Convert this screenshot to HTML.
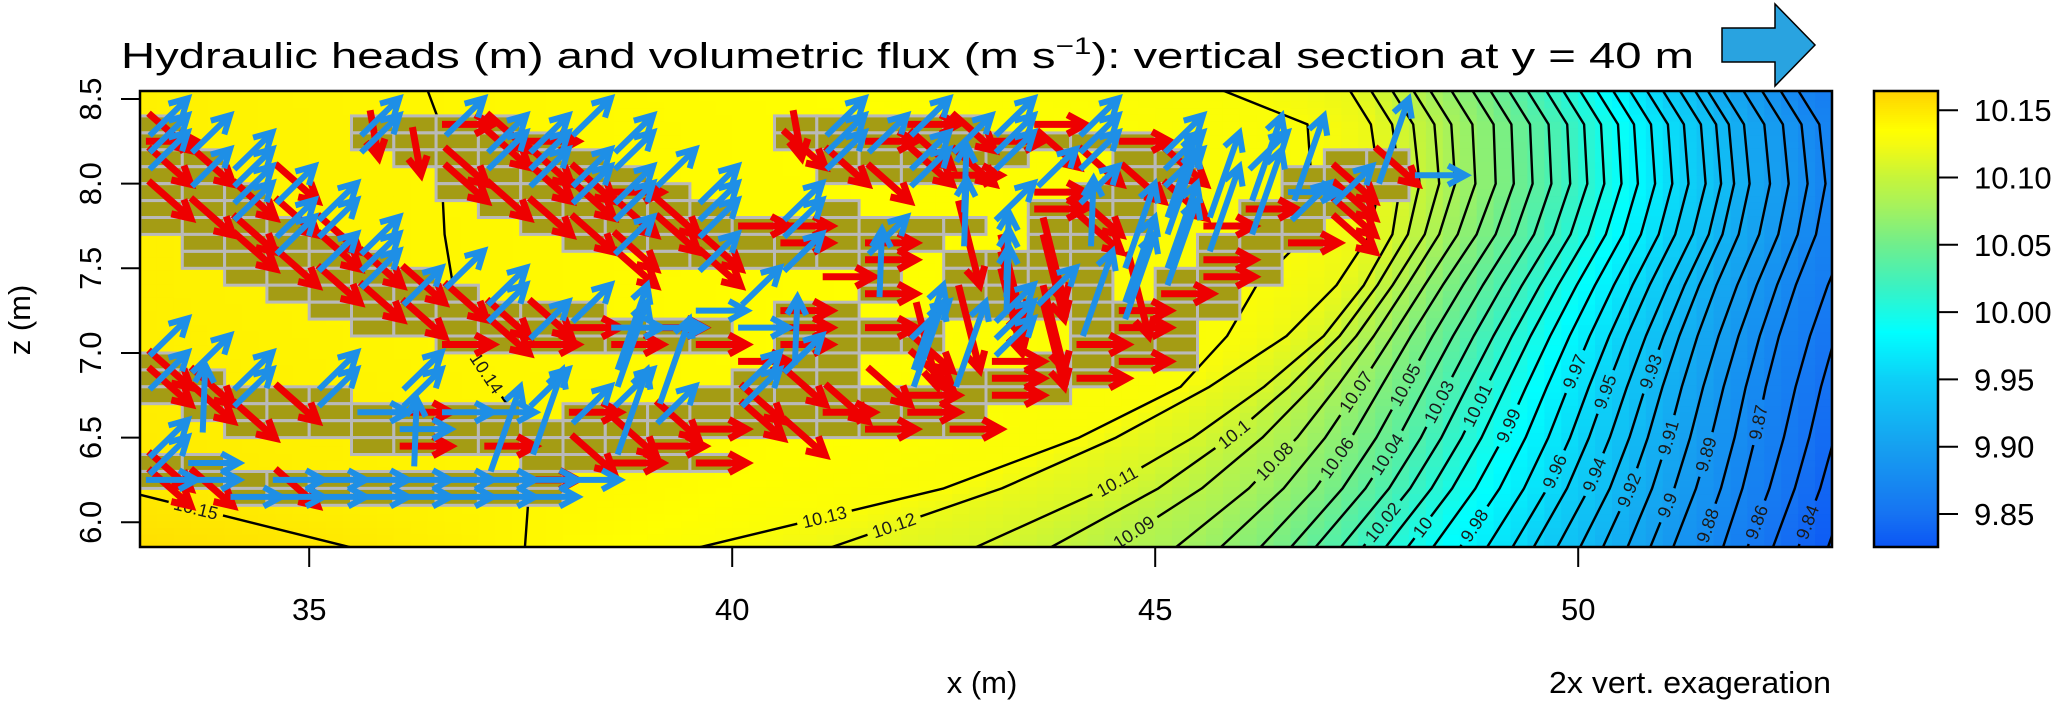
<!DOCTYPE html>
<html><head><meta charset="utf-8"><title>Hydraulic heads section</title>
<style>
html,body{margin:0;padding:0;background:#fff;}
svg{display:block;font-family:"Liberation Sans",Arial,sans-serif;}
</style></head>
<body>
<svg id="chart" width="2067" height="713" viewBox="0 0 2067 713" xmlns="http://www.w3.org/2000/svg">
  <defs>
    <clipPath id="plotClip"><rect x="140" y="91" width="1692" height="456"/></clipPath>
    <mask id="labelMask" maskUnits="userSpaceOnUse" x="0" y="0" width="2067" height="713">
      <rect x="0" y="0" width="2067" height="713" fill="#fff"/>
      <g id="maskHoles"></g>
    </mask>
  </defs>
  <rect x="0" y="0" width="2067" height="713" fill="#fff"/>
  <text x="121" y="68" font-size="36" textLength="1573" lengthAdjust="spacingAndGlyphs">Hydraulic heads (m) and volumetric flux (m s<tspan dy="-14" font-size="24">−1</tspan><tspan dy="14">): vertical section at y = 40 m</tspan></text>
  <polygon points="1722,28 1775,28 1775,4 1815,45 1775,86 1775,62 1722,62" fill="#29a3e0" stroke="#000" stroke-width="1.5"/>
  <g id="fillLayer" clip-path="url(#plotClip)"></g>
  <g id="contourLayer" clip-path="url(#plotClip)"><g id="contourLines" mask="url(#labelMask)"></g><g id="contourLabels"></g></g>
  <g id="cellLayer" clip-path="url(#plotClip)"></g>
  <g id="arrowLayer" clip-path="url(#plotClip)"></g>
  <rect x="140" y="91" width="1692" height="456" fill="none" stroke="#000" stroke-width="2.5"/>
  <g id="axes"></g>
  <text x="982" y="693" font-size="31" text-anchor="middle">x (m)</text>
  <text x="1549" y="693" font-size="31" textLength="282" lengthAdjust="spacingAndGlyphs">2x vert. exageration</text>
  <text x="0" y="0" font-size="31" text-anchor="middle" transform="translate(30,320) rotate(-90)">z (m)</text>
  <g id="colorbar"></g>
</svg>
<script>
// ---------- data ----------
const xTicks = [35, 40, 45, 50];
const zTicks = [6.0, 6.5, 7.0, 7.5, 8.0, 8.5];
const zTickLabels = ["6.0", "6.5", "7.0", "7.5", "8.0", "8.5"];
const cbTicks = [9.85, 9.90, 9.95, 10.00, 10.05, 10.10, 10.15];
const cbTickLabels = ["9.85", "9.90", "9.95", "10.00", "10.05", "10.10", "10.15"];

const rowZ = [8.55, 8.35, 8.0, 7.7, 7.4, 7.1, 6.8, 6.5, 6.2, 5.85];
const profOuter = [0, 0, 0.03, 0.10, 0.20, 0.31, 0.43, 0.57, 0.74, 1];
const profInner = [0, 0, 0, 0.01, 0.05, 0.13, 0.27, 0.45, 0.67, 1];
const bulge = [0, 0.25, 0.35, 0.30, 0.15, 0.05, 0, 0, 0, 0];
const genLevels = [10.12,10.11,10.10,10.09,10.08,10.07,10.06,10.05,10.04,10.03,10.02,10.01,10.00,9.99,9.98,9.97,9.96,9.95,9.94,9.93,9.92,9.91,9.90,9.89,9.88,9.87,9.86,9.85,9.84,9.83];
const topX = [47.3,47.55,47.8,48.05,48.25,48.5,48.75,48.96,49.18,49.4,49.62,49.82,50.02,50.22,50.41,50.61,50.81,51.0,51.2,51.38,51.53,51.71,51.95,52.17,52.39,52.6,53.0,53.3,53.6,53.9];
const botX = [41.16,42.87,43.76,44.47,45.24,45.77,46.24,46.6,46.89,47.19,47.45,47.72,47.98,48.28,48.6,48.92,49.22,49.47,49.75,50.02,50.29,50.58,50.85,51.12,51.44,51.71,52.0,52.3,52.6,52.95];
const profWeight = [0,0,0.2,0.4,0.6,0.8,1,1,1,1,1,1,1,1,1,1,1,1,1,1,1,1,1,1,1,1,1,1,1,1];
const specLevels = [10.16, 10.15, 10.14, 10.13];
const spec1016 = [18,18,18,18,18,19,20,22,26,31.5];
const spec1015 = [28,28,28,28,28,29,30,31.5,32.7,35.5];
const spec1014 = [36.4,36.55,36.57,36.6,36.7,36.8,37.2,37.6,37.6,37.55];
const spec1013 = [45.8,46.8,46.85,46.8,46.2,45.85,45.3,44.1,42.5,39.6];

const labelText = ["10.15","10.14","10.13","10.12","10.11","10.1","10.09","10.08","10.07","10.06","10.05","10.04","10.03","10.02","10.01","10","9.99","9.98","9.97","9.96","9.95","9.94","9.93","9.92","9.91","9.9","9.89","9.88","9.87","9.86","9.84"];
const labelLevel = [10.15,10.14,10.13,10.12,10.11,10.10,10.09,10.08,10.07,10.06,10.05,10.04,10.03,10.02,10.01,10.00,9.99,9.98,9.97,9.96,9.95,9.94,9.93,9.92,9.91,9.90,9.89,9.88,9.87,9.86,9.84];
const labelZ = [6.08,6.88,6.03,5.98,6.24,6.52,5.94,6.36,6.77,6.38,6.81,6.40,6.71,6.0,6.69,5.97,6.57,5.98,6.89,6.3,6.77,6.28,6.89,6.19,6.5,6.1,6.4,5.98,6.59,6.0,6.0];

const cellRanges = [
 [0,0,0],[0,5,8],[0,15,19],
 [1,0,0],[1,5,9],[1,15,23],
 [2,0,1],[2,6,10],[2,16,20],[2,23,24],[2,28,29],
 [3,0,1],[3,7,11],[3,16,19],[3,23,24],[3,27,29],
 [4,0,2],[4,7,12],[4,22,24],[4,27,29],
 [5,0,2],[5,8,13],[5,16,16],[5,21,23],[5,26,28],
 [6,0,3],[6,9,19],[6,21,23],[6,26,27],
 [7,1,4],[7,10,18],[7,21,22],[7,25,27],
 [8,1,5],[8,12,17],[8,19,22],[8,25,26],
 [9,2,6],[9,17,17],[9,19,22],[9,24,26],
 [10,3,7],[10,17,17],[10,19,22],[10,24,25],
 [11,4,10],[11,15,16],[11,19,25],
 [12,5,13],[12,15,18],[12,22,24],
 [13,7,13],[13,15,18],[13,22,24],
 [14,0,0],[14,15,16],[14,21,24],
 [15,0,1],[15,14,16],[15,19,22],
 [16,0,4],[16,13,21],
 [17,1,8],[17,10,19],
 [18,2,19],
 [19,5,12],
 [20,0,1],[20,9,13],
 [21,0,9],
 [22,2,9]
];
const redRows = [
 "d....v.rd......v..rd.r..........",
 "r.....v.dr.....d.rd.rd.r........",
 "dd.....d.d......d.dd..d.d....d..",
 "...d...d.dd......d.r...d....d...",
 "d.d.....d.dr.........r..d...d...",
 ".d.d.....d.dd........rd...r.d...",
 "..d.d.....d.d.rr...s..d..r..d...",
 "..d.d......d.d.r.r...s.....r....",
 "...d.d.....d.d...r..ss...r......",
 "....d.d.........r...s..s.r......",
 ".....d.d.........r..s...r.......",
 "......d.dd.....r...s.s.r........",
 "........d.r.r..r.rs..s.r........",
 ".......r.r.r.r.r..d...r.........",
 "d.............r...d.r..r........",
 "dd.............d.d..r.r.........",
 ".d.d..........d.d.r.r...........",
 "..d...r...r.d.d.r.r.............",
 "...........d.r.d.r.r............",
 "......r.r.d.r...................",
 "d..........r.r..................",
 "dd.d.....r......................",
 "................................"
];
const blueRows = [
 "u....u.u..u.....u.u.u.u.........",
 "uu...u..uu.u....uu.uu.u.u.......",
 "u.u.....uu.u....u.u.u.u.u.u..n..",
 ".uu......uu.u.....u..u..u.nn..b.",
 "..uu......uu.u.....i..u.nn.bu...",
 "..u.u......u.u.u....u...n.nu....",
 "...uu........u.u...i..i..n......",
 "...u.u.....u.....u.....nn.......",
 "....uu.......u.u....i...n.......",
 ".....u.u.........i..i..n........",
 "......u.u.....u.....iu.n........",
 "........u.u..b......u.n.........",
 ".........u.bb.b...u.u...........",
 "u..........n...i..n.u...........",
 ".u.........n...u..nn............",
 "u.u.u.u.....n.u.................",
 "..u.u.u..u.u..u.................",
 ".i...b.bb.u.u...................",
 "......b..n.n....................",
 "u.....i.n.......................",
 "ub..............................",
 "bb.bbbbbbbb.....................",
 "..bbbbbbbb......................"
];
const redTypes = ["r","d","s","v"];
const redVec = [[0.6,0],[0.5,-0.22],[0.25,-0.5],[0.1,-0.28]];
const blueTypes = ["b","u","n","i"];
const blueVec = [[0.6,0],[0.45,0.22],[0.35,0.5],[0.03,0.4]];

const cmapVals = [9.825,9.85,9.90,9.95,9.985,10.02,10.05,10.08,10.10,10.125,10.135,10.15,10.165];
const cmapCols = ["#0b55f5","#1673f2","#16a0f0","#0dcff7","#00ffff","#3cf2c0","#70ee8c","#a8f25a","#c6f53a","#f5fa10","#ffff00","#ffe800","#ffd000"];

// ---------- helpers ----------
const NS = "http://www.w3.org/2000/svg";
const X0 = 140, X1 = 1832, Y0 = 91, Y1 = 547;
function X(x){ return 140 + (x - 33) * 84.6; }
function Y(z){ return 99 + (8.5 - z) * 169.3; }
function mk(tag, attrs, parent){
  const e = document.createElementNS(NS, tag);
  for (const k in attrs) e.setAttribute(k, attrs[k]);
  parent.appendChild(e);
  return e;
}
function hex(c){ return [parseInt(c.slice(1,3),16),parseInt(c.slice(3,5),16),parseInt(c.slice(5,7),16)]; }
function colorOf(v){
  if (v <= cmapVals[0]) return cmapCols[0];
  const n = cmapVals.length;
  if (v >= cmapVals[n-1]) return cmapCols[n-1];
  for (let i = 0; i < n-1; i++){
    if (v >= cmapVals[i] && v <= cmapVals[i+1]){
      const t = (v - cmapVals[i]) / (cmapVals[i+1] - cmapVals[i]);
      const a = hex(cmapCols[i]), b = hex(cmapCols[i+1]);
      return "rgb(" + a.map((q,k)=>Math.round(q + (b[k]-q)*t)).join(",") + ")";
    }
  }
  return cmapCols[0];
}

const allLevels = specLevels.concat(genLevels);
const crossing = rowZ.map((z, j) => {
  const row = [spec1016[j], spec1015[j], spec1014[j], spec1013[j]];
  genLevels.forEach((lv, i) => {
    const w = profWeight[i];
    const f = profInner[j] * (1 - w) + profOuter[j] * w;
    row.push(topX[i] + (botX[i] - topX[i]) * f + bulge[j]);
  });
  return row;
});
function rowsAt(z){
  let j = 0;
  if (z >= rowZ[0]) return {j:0, t:0};
  if (z <= rowZ[rowZ.length-1]) return {j:rowZ.length-2, t:1};
  while (j < rowZ.length-2 && z < rowZ[j+1]) j++;
  return {j:j, t:(rowZ[j] - z) / (rowZ[j] - rowZ[j+1])};
}
function crossAt(i, z){
  const r = rowsAt(z);
  return crossing[r.j][i] * (1 - r.t) + crossing[r.j+1][i] * r.t;
}
function headAt(x, z){
  const xs = allLevels.map((lv, i) => crossAt(i, z));
  const n = xs.length;
  if (x <= xs[0]) return allLevels[0];
  for (let i = 0; i < n-1; i++){
    if (x >= xs[i] && x < xs[i+1]){
      const t = (x - xs[i]) / Math.max(1e-6, xs[i+1] - xs[i]);
      return allLevels[i] + (allLevels[i+1] - allLevels[i]) * t;
    }
  }
  const sl = (allLevels[n-1] - allLevels[n-2]) / Math.max(1e-6, xs[n-1] - xs[n-2]);
  return allLevels[n-1] + sl * (x - xs[n-1]);
}

// ---------- field fill ----------
const fillLayer = document.getElementById("fillLayer");
const dxm = 0.2, dzm = 0.04;
for (let x = 33; x < 53; x += dxm){
  for (let z = 5.85; z < 8.56; z += dzm){
    const v = headAt(x + dxm/2, z + dzm/2);
    const r = mk("rect", {x:X(x).toFixed(1), y:Y(z+dzm).toFixed(1), width:(dxm*84.6+0.6).toFixed(1), height:(dzm*169.3+0.6).toFixed(1), fill:colorOf(v)}, fillLayer);
    
    
  }
}

// ---------- contour lines ----------
const contourLines = document.getElementById("contourLines");
allLevels.forEach((lv, i) => {
  if (lv > 10.155) return;
  const pts = rowZ.map((z, j) => X(crossing[j][i]).toFixed(1) + "," + Y(z).toFixed(1));
  const p = mk("polyline", {points: pts.join(" "), fill:"none", stroke:"#000", "stroke-width":"2.4", "stroke-linejoin":"round"}, contourLines);
  
  
});

// ---------- contour labels ----------
const labelsG = document.getElementById("contourLabels");
const holes = document.getElementById("maskHoles");
labelText.forEach((txt, k) => {
  const i = allLevels.findIndex(l => Math.abs(l - labelLevel[k]) < 1e-6);
  if (i < 0) return;
  const z = labelZ[k];
  const px = X(crossAt(i, z)), py = Y(z);
  const ax = X(crossAt(i, z - 0.06)) - X(crossAt(i, z + 0.06));
  const ay = Y(z - 0.06) - Y(z + 0.06);
  let ang = Math.atan2(ay, ax) * 180 / Math.PI;
  if (ang > 90) ang -= 180;
  if (ang <= -90) ang += 180;
  const w = txt.length * 9.6 + 8;
  const hole = mk("rect", {x:(-w/2).toFixed(1), y:"-10", width:w.toFixed(1), height:"20", fill:"#000", transform:"translate(" + px.toFixed(1) + "," + py.toFixed(1) + ") rotate(" + ang.toFixed(1) + ")"}, holes);
  
  
  const t = mk("text", {x:"0", y:"6", "font-size":"18", "text-anchor":"middle", fill:"#1a1a1a", transform:"translate(" + px.toFixed(1) + "," + py.toFixed(1) + ") rotate(" + ang.toFixed(1) + ")"}, labelsG);
  t.textContent = txt;
  
  
});

// ---------- material cells ----------
const cellLayer = document.getElementById("cellLayer");
cellRanges.forEach(cr => {
  for (let c = cr[1]; c <= cr[2]; c++){
    const x = 33 + 0.5 * c, zt = 8.4 - 0.1 * cr[0];
    const r = mk("rect", {x:X(x).toFixed(1), y:Y(zt).toFixed(1), width:"42.3", height:"16.9", fill:"#a49c14", stroke:"#b9b9b9", "stroke-width":"3"}, cellLayer);
    
    
  }
});

// ---------- arrows ----------
const arrowLayer = document.getElementById("arrowLayer");
function drawArrow(c, row, vec, color, width, name){
  const cx = X(33 + 0.5 * c + 0.25), cy = Y(8.35 - 0.1 * row);
  const dx = vec[0] * 84.6, dy = -vec[1] * 169.3;
  const x0 = cx - 0.3 * dx, y0 = cy - 0.3 * dy;
  const x1 = x0 + dx, y1 = y0 + dy;
  const a = Math.atan2(dy, dx), hl = 20, ha = 0.5;
  const h1x = x1 - hl * Math.cos(a - ha), h1y = y1 - hl * Math.sin(a - ha);
  const h2x = x1 - hl * Math.cos(a + ha), h2y = y1 - hl * Math.sin(a + ha);
  const d = "M" + x0.toFixed(1) + " " + y0.toFixed(1) + "L" + x1.toFixed(1) + " " + y1.toFixed(1) +
            "M" + h1x.toFixed(1) + " " + h1y.toFixed(1) + "L" + x1.toFixed(1) + " " + y1.toFixed(1) + "L" + h2x.toFixed(1) + " " + h2y.toFixed(1);
  const p = mk("path", {d:d, fill:"none", stroke:color, "stroke-width":width, "stroke-linejoin":"miter", "stroke-linecap":"butt"}, arrowLayer);
  
  
}
redRows.forEach((s, row) => {
  for (let c = 0; c < s.length; c++){
    const k = redTypes.indexOf(s[c]);
    if (k >= 0) drawArrow(c, row, redVec[k], "#ee0000", 7, "red-flux-arrow");
  }
});
blueRows.forEach((s, row) => {
  for (let c = 0; c < s.length; c++){
    const k = blueTypes.indexOf(s[c]);
    if (k >= 0) drawArrow(c, row, blueVec[k], "#1e8fe6", 6, "blue-flux-arrow");
  }
});

// ---------- axes ----------
const axes = document.getElementById("axes");
xTicks.forEach(v => {
  const l = mk("line", {x1:X(v), y1:Y1, x2:X(v), y2:Y1+20, stroke:"#000", "stroke-width":"2"}, axes);
  
  
  const t = mk("text", {x:X(v), y:620, "font-size":"31", "text-anchor":"middle"}, axes);
  t.textContent = String(v);
  
  
});
zTicks.forEach((v, i) => {
  const l = mk("line", {x1:X0-19, y1:Y(v), x2:X0, y2:Y(v), stroke:"#000", "stroke-width":"2"}, axes);
  
  
  const t = mk("text", {x:0, y:0, "font-size":"31", "text-anchor":"middle", transform:"translate(101," + Y(v).toFixed(1) + ") rotate(-90)"}, axes);
  t.textContent = zTickLabels[i];
  
  
});

// ---------- colorbar ----------
const cb = document.getElementById("colorbar");
function cbY(v){ return 514 - (v - 9.85) * 1346; }
for (let y = 91; y < 547; y += 2){
  const v = 9.85 + (514 - (y + 1)) / 1346;
  const r = mk("rect", {x:1874, y:y, width:64, height:2.6, fill:colorOf(v)}, cb);
  
  
}
const cbf = mk("rect", {x:1874, y:91, width:64, height:456, fill:"none", stroke:"#000", "stroke-width":"2.5"}, cb);


cbTicks.forEach((v, i) => {
  const l = mk("line", {x1:1938, y1:cbY(v), x2:1958, y2:cbY(v), stroke:"#000", "stroke-width":"2"}, cb);
  
  
  const t = mk("text", {x:1974, y:(cbY(v)+11).toFixed(1), "font-size":"31"}, cb);
  t.textContent = cbTickLabels[i];
  
  
});
</script>
</body></html>
